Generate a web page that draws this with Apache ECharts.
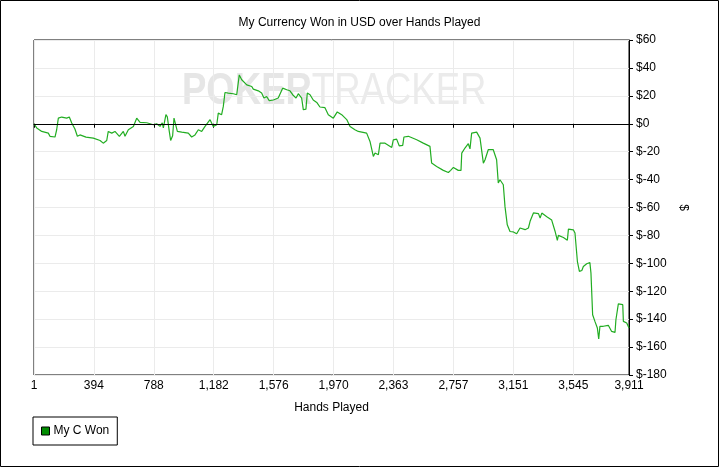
<!DOCTYPE html>
<html>
<head>
<meta charset="utf-8">
<title>My Currency Won</title>
<script src="https://cdn.jsdelivr.net/npm/echarts@6.0.0/dist/echarts.min.js"></script>
<style>
  html, body { margin: 0; padding: 0; background: #fff; }
  #main { width: 719px; height: 467px; }
</style>
</head>
<body>
<div id="main"></div>
<script>
// hands played (x) and running total won in USD (y)
var hands = [
  1, 19, 52, 95, 106, 139, 150, 161, 183, 216,
  233, 249, 270, 286, 303, 343, 391, 435, 456, 479,
  489, 512, 533, 562, 588, 599, 621, 654, 676, 698,
  742, 785, 807, 829, 844, 851, 868, 877, 890, 899,
  912, 921, 934, 943, 972, 1015, 1037, 1059, 1081, 1103,
  1125, 1136, 1158, 1179, 1202, 1212, 1234, 1245, 1256, 1278,
  1311, 1333, 1343, 1350, 1366, 1399, 1432, 1442, 1475, 1497,
  1512, 1530, 1547, 1574, 1606, 1618, 1635, 1662, 1683, 1701,
  1723, 1738, 1749, 1760, 1771, 1788, 1797, 1815, 1836, 1859,
  1880, 1913, 1935, 1968, 1979, 1994, 2023, 2056, 2078, 2089,
  2110, 2132, 2187, 2209, 2231, 2242, 2264, 2275, 2308, 2352,
  2362, 2384, 2401, 2424, 2432, 2461, 2516, 2559, 2603, 2614,
  2647, 2691, 2724, 2739, 2757, 2789, 2807, 2812, 2833, 2855,
  2866, 2877, 2910, 2932, 2943, 2954, 2965, 2976, 2986, 3019,
  3041, 3052, 3063, 3085, 3096, 3111, 3129, 3151, 3173, 3195,
  3206, 3228, 3239, 3250, 3261, 3283, 3316, 3327, 3338, 3371,
  3403, 3425, 3440, 3447, 3480, 3506, 3513, 3545, 3556, 3572,
  3585, 3601, 3611, 3633, 3654, 3661, 3672, 3687, 3703, 3712,
  3720, 3742, 3753, 3775, 3797, 3819, 3825, 3834, 3841, 3870,
  3874, 3896, 3911
];

var won = [
  0, -3, -5.5, -6.7, -9, -9.5, -4.3, 4, 4.8, 4,
  4.8, 0.5, -3.8, -9, -8, -9.6, -10.3, -12, -13.9, -12,
  -5.5, -6.7, -5.5, -9, -5.5, -9, -4.3, -1.9, 4, 1,
  0.7, -0.7, 0, -1.9, 0.7, -3, 6.5, 5, -5.5, -12,
  -8.6, 4, 3.5, -5.5, -6, -6.7, -9.5, -8, -4.3, -5.5,
  -1.9, -0.7, 2.9, -1.9, -0.7, 7.6, 6.5, 12.4, 22.4, 22,
  21.5, 20.8, 22, 35, 31.5, 27.9, 26.7, 24.8, 23.6, 22,
  18.4, 19.5, 16.5, 17, 18.4, 17, 25.5, 24.4, 23.6, 20.8,
  18.4, 21.5, 22.4, 18.4, 10, 10.5, 22, 20.8, 17, 15.3,
  12, 11.5, 6.5, 4, 3, 8.5, 6.5, 3, -1.9, -3,
  -4.3, -5.5, -6.7, -12.7, -23.4, -21, -22.2, -13.9, -13.9, -17,
  -11.5, -11, -15.8, -15.5, -9.5, -9, -11.5, -13.9, -16.2, -28.2,
  -30.6, -33.4, -34.9, -33.4, -31.3, -33.4, -33.4, -21, -17.4, -14.3,
  -18, -6.7, -6, -10.3, -10.3, -28.2, -25.8, -27, -18.6, -18.6,
  -25.8, -42.5, -40.1, -43.7, -59.2, -72.4, -77.2, -77.5, -78.8, -74.7,
  -75.5, -75.9, -75.9, -74.7, -69.9, -63.9, -64.4, -67.5, -64, -66.6,
  -69, -77, -83.6, -80, -81.5, -83.4, -75.5, -76, -78.3, -98.7,
  -105.8, -105.1, -102.3, -100.3, -99.4, -107, -136.8, -141.6, -146.3, -154.2,
  -145.1, -145.1, -146.3, -144.4, -148.8, -149.5, -140.4, -140.4, -129, -129.6,
  -141.6, -142.7, -146.3
];

// tick labels on the hands axis
var xTicks = [1, 394, 788, 1182, 1576, 1970, 2363, 2757, 3151, 3545, 3911];

var font = 'Liberation Sans, Arial, sans-serif';

var points = [];
for (var i = 0; i < hands.length; i++) {
  points.push([hands[i], won[i]]);
}

var chart = echarts.init(document.getElementById('main'), null, { renderer: 'canvas' });

var option = {
  backgroundColor: '#fff',
  animation: false,
  title: {
    text: 'My Currency Won in USD over Hands Played',
    left: 'center',
    top: 12,
    textStyle: { fontFamily: font, fontSize: 12, fontWeight: 'normal', color: '#000' }
  },
  legend: {
    data: [{
      name: 'My C Won',
      icon: 'rect',
      itemStyle: { color: '#008c00', borderColor: '#000', borderWidth: 1 }
    }],
    left: 33,
    top: 417,
    padding: [8, 8],
    itemWidth: 8,
    itemHeight: 8,
    itemGap: 5,
    borderColor: '#000',
    borderWidth: 1,
    textStyle: { fontFamily: font, fontSize: 12, color: '#000', padding: [0, 0, 0, -1] }
  },
  grid: {
    left: 34,
    right: 90,
    top: 40,
    bottom: 92,
    show: true,
    borderColor: '#000',
    borderWidth: 1
  },
  // watermark + outer frame
  graphic: [
    {
      type: 'text',
      left: 182,
      top: 70,
      scaleX: 0.83,
      z: -1,
      style: {
        text: '{a|POKER}{b|TRACKER}',
        rich: {
          a: { fontFamily: font, fontSize: 44, fontWeight: 'bold', fill: '#e6e6e6' },
          b: { fontFamily: font, fontSize: 44, fontWeight: 'normal', fill: '#ebebeb' }
        }
      }
    },
    {
      type: 'rect',
      shape: { x: 0.5, y: 0.5, width: 718, height: 466 },
      style: { fill: null, stroke: '#000', lineWidth: 1 },
      silent: true
    }
  ],
  xAxis: {
    type: 'value',
    min: 1,
    max: 3911,
    name: 'Hands Played',
    nameLocation: 'middle',
    nameGap: 27,
    nameTextStyle: { fontFamily: font, fontSize: 12, color: '#000' },
    axisLine: { lineStyle: { color: '#000', width: 1 } },
    axisTick: { length: 4, lineStyle: { color: '#000' }, customValues: xTicks },
    axisLabel: {
      customValues: xTicks,
      margin: 5,
      fontFamily: font,
      fontSize: 12,
      color: '#000',
      formatter: function (v) { return v.toLocaleString('en-US'); }
    },
    splitLine: { show: true, lineStyle: { color: '#ebebeb', width: 1 } }
  },
  yAxis: {
    type: 'value',
    position: 'right',
    min: -180,
    max: 60,
    interval: 20,
    name: '$',
    nameLocation: 'middle',
    nameGap: 45,
    nameRotate: -90,
    nameTextStyle: { fontFamily: font, fontSize: 12, color: '#000' },
    axisLine: { show: true, lineStyle: { color: '#000', width: 1 } },
    axisTick: { show: true, length: 4, lineStyle: { color: '#000' } },
    axisLabel: {
      margin: 7,
      fontFamily: font,
      fontSize: 12,
      color: '#000',
      formatter: function (v) { return '$' + v; }
    },
    splitLine: { show: true, lineStyle: { color: '#ebebeb', width: 1 } }
  },
  series: [{
    name: 'My C Won',
    type: 'line',
    data: points,
    showSymbol: false,
    symbol: 'none',
    lineStyle: { color: '#22ad22', width: 1.2 },
    itemStyle: { color: '#008c00' },
    // the $0 base line
    markLine: {
      silent: true,
      symbol: 'none',
      label: { show: false },
      lineStyle: { color: '#000', type: 'solid', width: 1 },
      data: [{ yAxis: 0 }]
    }
  }]
};

chart.setOption(option);
</script>
</body>
</html>
